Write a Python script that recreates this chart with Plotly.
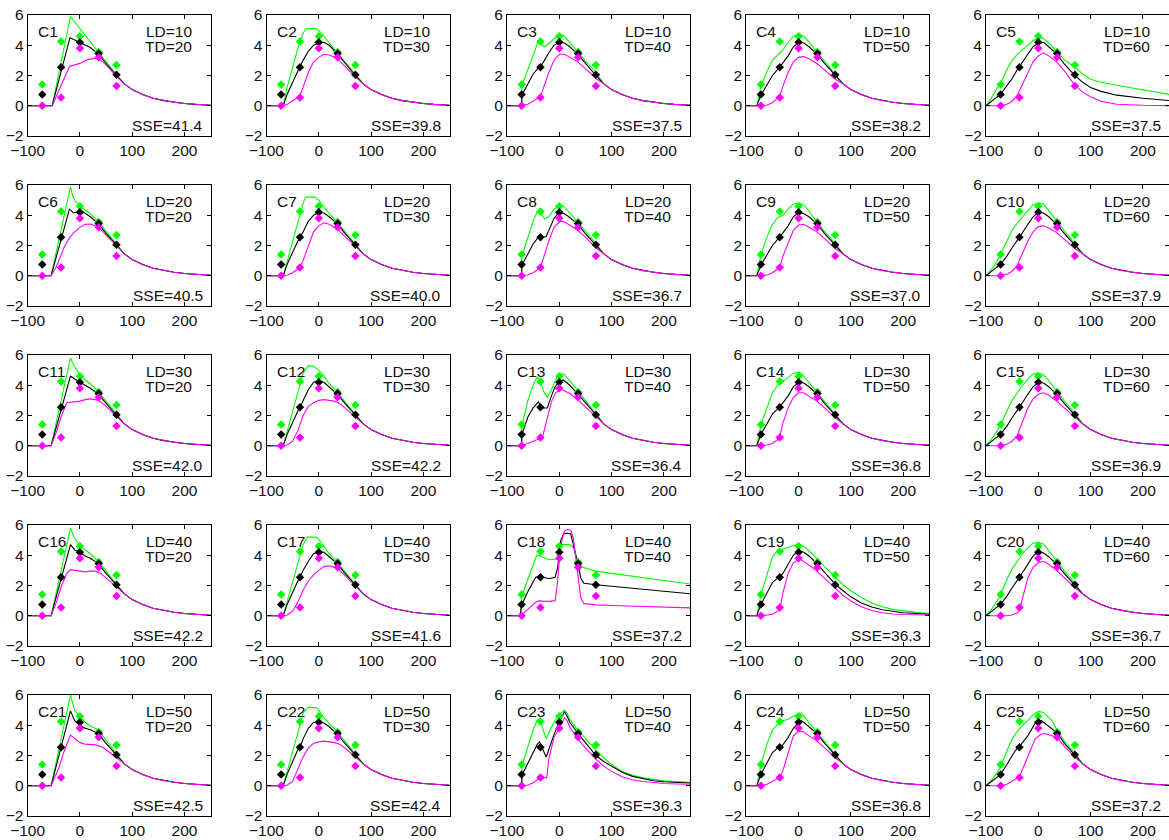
import plotly.graph_objects as go

# ---------------- data ----------------
MARK_X = [-72, -36, 0, 36, 70]
MARK_GREEN = [1.4, 4.25, 4.6, 3.55, 2.7]
MARK_BLACK = [0.75, 2.55, 4.2, 3.45, 2.05]
MARK_MAGENTA = [0.0, 0.55, 3.8, 3.2, 1.3]

LD = [10, 10, 10, 10, 10, 20, 20, 20, 20, 20, 30, 30, 30, 30, 30,
      40, 40, 40, 40, 40, 50, 50, 50, 50, 50]
TD = [20, 30, 40, 50, 60, 20, 30, 40, 50, 60, 20, 30, 40, 50, 60,
      20, 30, 40, 50, 60, 20, 30, 40, 50, 60]
SSE = [41.4, 39.8, 37.5, 38.2, 37.5, 40.5, 40.0, 36.7, 37.0, 37.9,
       42.0, 42.2, 36.4, 36.8, 36.9, 42.2, 41.6, 37.2, 36.3, 36.7,
       42.5, 42.4, 36.3, 36.8, 37.2]

TAIL = [(85, 1.45), (100, 1.07), (120, 0.75), (140, 0.5), (160, 0.34),
        (180, 0.23), (200, 0.15), (220, 0.09), (250, 0.03)]

# Row 1 (LD=10)
G1 = [(-100, 0), (-53, 0), (-18, 5.9), (35, 3.55), (50, 2.9), (70, 2.1)] + TAIL
K1 = [(-100, 0), (-53, 0), (-19, 4.5), (0, 4.2), (20, 3.85), (35, 3.42), (50, 2.8), (70, 2.0)] + TAIL
M1 = [(-100, 0), (-53, 0), (-20, 2.6), (0, 2.8), (15, 3.05), (30, 3.15), (40, 3.0), (50, 2.7), (70, 1.95)] + TAIL

G2 = [(-100, 0), (-68, 0), (-60, 1.3), (-50, 2.6), (-40, 3.8), (-30, 4.8), (-24, 5.1), (-5, 5.1), (5, 4.8), (20, 4.15), (35, 3.55), (50, 2.9), (70, 2.1)] + TAIL
K2 = [(-100, 0), (-68, 0), (-60, 0.8), (-50, 1.6), (-40, 2.35), (-36, 2.6), (-30, 3.0), (-20, 3.6), (-10, 4.0), (0, 4.15), (10, 4.2), (20, 4.0), (35, 3.45), (50, 2.8), (70, 2.0)] + TAIL
M2 = [(-100, 0), (-68, 0), (-60, 0.1), (-50, 0.3), (-40, 0.55), (-36, 0.65), (-30, 1.2), (-20, 2.2), (-10, 2.9), (0, 3.2), (10, 3.4), (20, 3.35), (30, 3.2), (40, 2.95), (50, 2.6), (70, 1.9)] + TAIL

G3 = [(-100, 0), (-72, 0), (-71.5, 1.3), (-60, 2.4), (-50, 3.3), (-42, 4.1), (-38, 4.3), (-33, 4.0), (-28, 3.9), (-20, 4.1), (-10, 4.45), (0, 4.65), (8, 4.65), (20, 4.2), (35, 3.6), (50, 2.95), (70, 2.2)] + TAIL
K3 = [(-100, 0), (-72, 0), (-71.5, 0.7), (-60, 1.5), (-50, 2.1), (-40, 2.5), (-36, 2.6), (-30, 2.9), (-20, 3.5), (-10, 4.0), (0, 4.2), (10, 4.15), (20, 3.9), (35, 3.42), (50, 2.78), (70, 2.0)] + TAIL
M3 = [(-100, 0), (-72, 0), (-60, 0.1), (-50, 0.3), (-40, 0.5), (-36, 0.6), (-30, 1.2), (-20, 2.2), (-10, 3.0), (0, 3.4), (10, 3.4), (20, 3.2), (35, 2.9), (50, 2.45), (70, 1.8)] + TAIL

G4 = [(-100, 0), (-80, 0), (-72, 1.3), (-60, 2.3), (-50, 3.0), (-40, 3.35), (-36, 3.45), (-30, 3.7), (-20, 4.2), (-10, 4.6), (0, 4.7), (10, 4.6), (20, 4.2), (35, 3.55), (50, 2.9), (70, 2.1)] + TAIL
K4 = [(-100, 0), (-80, 0), (-72, 0.7), (-60, 1.4), (-50, 2.0), (-40, 2.4), (-36, 2.55), (-20, 3.3), (-10, 3.9), (0, 4.2), (10, 4.15), (20, 3.9), (35, 3.42), (50, 2.78), (70, 2.0)] + TAIL
M4 = [(-100, 0), (-80, 0), (-72, 0.0), (-60, 0.05), (-50, 0.2), (-40, 0.5), (-36, 0.6), (-30, 1.3), (-20, 2.2), (-10, 2.9), (0, 3.2), (10, 3.25), (20, 3.1), (35, 2.8), (50, 2.35), (70, 1.75)] + TAIL

G5 = [(-100, 0), (-90, 0.5), (-80, 1.1), (-72, 1.5), (-60, 2.4), (-50, 3.0), (-40, 3.4), (-30, 3.7), (-20, 4.0), (-10, 4.3), (0, 4.5), (10, 4.45), (20, 4.15), (35, 3.6), (50, 3.05), (70, 2.55), (85, 2.1), (100, 1.75), (120, 1.55), (150, 1.36), (175, 1.2), (200, 1.08), (225, 0.9), (250, 0.75)]
K5 = [(-100, 0), (-90, 0.3), (-80, 0.55), (-72, 0.75), (-60, 1.3), (-50, 1.8), (-40, 2.4), (-36, 2.6), (-20, 3.4), (-10, 3.9), (0, 4.15), (10, 4.2), (20, 3.9), (35, 3.42), (50, 2.75), (70, 2.0), (85, 1.55), (100, 1.2), (120, 0.95), (150, 0.7), (200, 0.5), (250, 0.35)]
M5 = [(-100, 0), (-80, 0), (-72, 0.0), (-60, 0.1), (-50, 0.3), (-40, 0.7), (-30, 1.4), (-20, 2.2), (-10, 2.9), (0, 3.3), (10, 3.5), (20, 3.3), (35, 2.9), (50, 2.3), (70, 1.35), (85, 0.9), (100, 0.6), (120, 0.3), (150, 0.1), (200, 0.03), (250, 0.0)]

# Row 2 (LD=20)
G6 = [(-100, 0), (-55, 0), (-18, 5.9), (-14, 5.3), (-8, 4.9), (0, 4.6), (10, 4.35), (20, 4.1), (35, 3.6), (50, 2.95), (70, 2.1)] + TAIL
K6 = [(-100, 0), (-55, 0), (-20, 4.4), (-12, 4.15), (-3, 4.25), (5, 4.25), (20, 3.9), (35, 3.45), (50, 2.8), (70, 2.0)] + TAIL
M6 = [(-100, 0), (-55, 0), (-45, 0.6), (-36, 1.4), (-30, 1.9), (-20, 2.5), (-10, 2.9), (0, 3.2), (10, 3.4), (20, 3.42), (30, 3.3), (40, 3.05), (50, 2.7), (70, 1.95)] + TAIL

G7 = [(-100, 0), (-68, 0), (-60, 1.0), (-50, 2.3), (-40, 3.6), (-30, 4.8), (-25, 5.2), (-8, 5.2), (0, 5.0), (10, 4.55), (20, 4.1), (35, 3.55), (50, 2.9), (70, 2.1)] + TAIL
K7 = [(-100, 0), (-68, 0), (-60, 0.8), (-50, 1.6), (-40, 2.3), (-36, 2.55), (-30, 2.9), (-20, 3.6), (-10, 4.0), (0, 4.2), (10, 4.15), (20, 3.9), (35, 3.45), (50, 2.8), (70, 2.0)] + TAIL
M7 = [(-100, 0), (-68, 0), (-60, 0.05), (-50, 0.2), (-40, 0.45), (-36, 0.55), (-30, 1.0), (-20, 2.0), (-10, 2.9), (0, 3.3), (10, 3.5), (20, 3.4), (35, 3.1), (50, 2.6), (70, 1.95)] + TAIL

G8 = [(-100, 0), (-72, 0), (-71.5, 1.3), (-60, 2.6), (-50, 3.6), (-42, 4.25), (-38, 4.35), (-33, 4.0), (-28, 3.75), (-20, 3.9), (-10, 4.4), (0, 4.65), (8, 4.6), (20, 4.15), (35, 3.55), (50, 2.95), (70, 2.15)] + TAIL
K8 = [(-100, 0), (-72, 0), (-71.5, 0.7), (-60, 1.5), (-50, 2.1), (-40, 2.55), (-36, 2.6), (-30, 2.55), (-25, 2.6), (-20, 3.0), (-10, 3.8), (0, 4.2), (10, 4.1), (20, 3.85), (35, 3.42), (50, 2.78), (70, 2.0)] + TAIL
M8 = [(-100, 0), (-72, 0), (-60, 0.05), (-50, 0.2), (-40, 0.45), (-36, 0.55), (-30, 1.2), (-20, 2.3), (-10, 3.2), (0, 3.55), (5, 3.6), (10, 3.55), (20, 3.35), (35, 3.0), (50, 2.55), (70, 1.85)] + TAIL

G9 = [(-100, 0), (-80, 0), (-72, 1.4), (-60, 2.6), (-50, 3.4), (-40, 3.85), (-36, 3.9), (-30, 4.0), (-20, 4.4), (-10, 4.75), (0, 4.8), (10, 4.7), (20, 4.25), (35, 3.55), (50, 2.9), (70, 2.15)] + TAIL
K9 = [(-100, 0), (-80, 0), (-72, 0.7), (-60, 1.4), (-50, 2.0), (-40, 2.4), (-36, 2.55), (-20, 3.3), (-10, 3.9), (0, 4.2), (10, 4.1), (20, 3.9), (35, 3.42), (50, 2.78), (70, 2.0)] + TAIL
M9 = [(-100, 0), (-80, 0), (-72, 0), (-60, 0.05), (-50, 0.2), (-40, 0.45), (-36, 0.55), (-30, 1.3), (-20, 2.2), (-10, 3.0), (0, 3.35), (10, 3.4), (20, 3.2), (35, 2.9), (50, 2.45), (70, 1.8)] + TAIL

G10 = [(-100, 0), (-90, 0.4), (-80, 0.9), (-72, 1.4), (-60, 2.3), (-50, 3.0), (-40, 3.5), (-30, 3.9), (-20, 4.3), (-10, 4.7), (0, 4.8), (10, 4.75), (20, 4.3), (35, 3.6), (50, 2.95), (70, 2.15)] + TAIL
K10 = [(-100, 0), (-90, 0.3), (-80, 0.55), (-72, 0.75), (-60, 1.3), (-50, 1.85), (-40, 2.4), (-36, 2.55), (-20, 3.4), (-10, 3.9), (0, 4.2), (10, 4.15), (20, 3.9), (35, 3.42), (50, 2.78), (70, 2.0)] + TAIL
M10 = [(-100, 0), (-80, 0), (-72, 0), (-60, 0.1), (-50, 0.3), (-40, 0.7), (-30, 1.5), (-20, 2.3), (-10, 2.9), (0, 3.25), (10, 3.3), (20, 3.15), (35, 2.85), (50, 2.4), (70, 1.8)] + TAIL

# Row 3 (LD=30)
G11 = [(-100, 0), (-55, 0), (-18, 5.8), (-10, 5.2), (0, 4.7), (10, 4.35), (20, 4.1), (35, 3.6), (50, 2.95), (70, 2.1)] + TAIL
K11 = [(-100, 0), (-55, 0), (-18, 4.6), (-10, 4.4), (0, 4.2), (10, 4.0), (20, 3.8), (35, 3.42), (50, 2.8), (70, 2.0)] + TAIL
M11 = [(-100, 0), (-55, 0), (-45, 0.9), (-35, 2.0), (-25, 2.85), (-10, 2.9), (0, 2.95), (10, 3.05), (20, 3.1), (30, 3.05), (40, 2.9), (50, 2.6), (70, 1.95)] + TAIL

G12 = [(-100, 0), (-68, 0), (-60, 1.0), (-50, 2.3), (-40, 3.6), (-30, 4.8), (-20, 5.3), (-10, 5.25), (0, 5.0), (10, 4.6), (20, 4.1), (35, 3.55), (50, 2.9), (70, 2.1)] + TAIL
K12 = [(-100, 0), (-68, 0), (-60, 0.8), (-50, 1.6), (-40, 2.3), (-36, 2.55), (-30, 3.0), (-20, 3.7), (-10, 4.2), (0, 4.3), (10, 4.2), (20, 3.9), (35, 3.42), (50, 2.8), (70, 2.0)] + TAIL
M12 = [(-100, 0), (-68, 0), (-60, 0.05), (-50, 0.3), (-40, 1.0), (-30, 2.0), (-20, 2.6), (-10, 2.85), (0, 3.0), (10, 3.05), (20, 3.0), (30, 2.95), (40, 2.8), (50, 2.5), (70, 1.9)] + TAIL

G13 = [(-100, 0), (-72, 0), (-71.5, 1.3), (-60, 3.0), (-50, 4.0), (-42, 4.56), (-37, 4.3), (-30, 3.6), (-23, 3.2), (-15, 3.7), (-8, 4.3), (0, 4.7), (8, 4.75), (20, 4.3), (35, 3.65), (50, 3.0), (70, 2.15)] + TAIL
K13 = [(-100, 0), (-72, 0), (-71.5, 0.75), (-60, 1.9), (-50, 2.5), (-40, 2.9), (-33, 2.5), (-23, 2.5), (-15, 3.3), (-8, 3.9), (0, 4.25), (8, 4.35), (20, 4.0), (35, 3.45), (50, 2.85), (70, 2.05)] + TAIL
M13 = [(-100, 0), (-72, 0), (-60, 0.15), (-45, 0.35), (-36, 0.5), (-32, 0.6), (-23, 1.9), (-15, 2.9), (-7, 3.5), (0, 3.65), (6, 3.7), (20, 3.45), (35, 3.05), (50, 2.55), (70, 1.9)] + TAIL

G14 = [(-100, 0), (-80, 0), (-72, 1.4), (-60, 2.6), (-50, 3.5), (-40, 4.0), (-36, 4.1), (-30, 4.2), (-20, 4.5), (-10, 4.8), (0, 4.85), (5, 4.8), (10, 4.6), (20, 4.2), (35, 3.55), (50, 2.9), (70, 2.1)] + TAIL
K14 = [(-100, 0), (-80, 0), (-72, 0.75), (-60, 1.5), (-50, 2.1), (-40, 2.45), (-36, 2.55), (-20, 3.3), (-10, 3.9), (0, 4.2), (10, 4.15), (20, 3.9), (35, 3.42), (50, 2.78), (70, 2.0)] + TAIL
M14 = [(-100, 0), (-80, 0), (-72, 0), (-60, 0.05), (-50, 0.15), (-40, 0.4), (-36, 0.6), (-30, 1.5), (-20, 2.5), (-10, 3.2), (0, 3.5), (10, 3.5), (20, 3.3), (35, 2.95), (50, 2.5), (70, 1.85)] + TAIL

G15 = [(-100, 0), (-90, 0.4), (-80, 0.9), (-72, 1.4), (-60, 2.3), (-50, 3.0), (-40, 3.5), (-30, 4.0), (-20, 4.4), (-10, 4.75), (0, 4.8), (10, 4.7), (20, 4.3), (35, 3.6), (50, 2.95), (70, 2.15)] + TAIL
K15 = [(-100, 0), (-90, 0.3), (-80, 0.55), (-72, 0.75), (-60, 1.3), (-50, 1.85), (-40, 2.4), (-36, 2.55), (-20, 3.4), (-10, 3.9), (0, 4.2), (10, 4.15), (20, 3.9), (35, 3.42), (50, 2.78), (70, 2.0)] + TAIL
M15 = [(-100, 0), (-80, 0), (-72, 0), (-60, 0.1), (-50, 0.3), (-40, 0.7), (-30, 1.6), (-20, 2.5), (-10, 3.1), (0, 3.4), (10, 3.5), (20, 3.35), (35, 2.95), (50, 2.5), (70, 1.85)] + TAIL

# Row 4 (LD=40)
G16 = [(-100, 0), (-55, 0), (-18, 5.8), (-10, 5.1), (0, 4.6), (10, 4.35), (20, 4.1), (35, 3.6), (50, 2.95), (70, 2.1)] + TAIL
K16 = [(-100, 0), (-55, 0), (-18, 4.7), (-10, 4.35), (0, 4.2), (10, 3.95), (20, 3.8), (35, 3.45), (50, 2.8), (70, 2.0)] + TAIL
M16 = [(-100, 0), (-55, 0), (-45, 0.9), (-35, 2.0), (-25, 2.8), (-18, 3.05), (-10, 3.0), (0, 2.95), (10, 2.9), (20, 2.95), (30, 2.95), (40, 2.8), (50, 2.5), (70, 1.9)] + TAIL

G17 = [(-100, 0), (-68, 0), (-60, 1.0), (-50, 2.2), (-40, 3.5), (-30, 4.7), (-22, 5.2), (-5, 5.2), (0, 5.05), (10, 4.6), (20, 4.1), (35, 3.55), (50, 2.9), (70, 2.1)] + TAIL
K17 = [(-100, 0), (-68, 0), (-60, 0.8), (-50, 1.6), (-40, 2.3), (-36, 2.55), (-30, 3.0), (-20, 3.6), (-10, 4.1), (0, 4.25), (10, 4.2), (20, 3.9), (35, 3.45), (50, 2.8), (70, 2.0)] + TAIL
M17 = [(-100, 0), (-68, 0), (-60, 0.05), (-50, 0.3), (-40, 0.9), (-30, 1.7), (-20, 2.3), (-10, 2.7), (0, 3.0), (10, 3.25), (20, 3.3), (30, 3.2), (40, 3.0), (50, 2.65), (70, 1.95)] + TAIL

G18 = [(-100, 0), (-75, 0), (-72, 1.3), (-60, 2.4), (-50, 3.4), (-43, 4.0), (-36, 3.95), (-30, 3.85), (-20, 3.7), (-5, 3.75), (0, 4.6), (5, 4.7), (20, 4.7), (27, 4.5), (32, 3.9), (36, 3.5), (45, 3.2), (70, 2.95), (100, 2.8), (150, 2.55), (200, 2.35), (250, 2.1)]
K18 = [(-100, 0), (-75, 0), (-72, 0.7), (-60, 1.6), (-45, 2.55), (-38, 2.6), (-30, 2.55), (-20, 2.45), (-8, 2.55), (-3, 3.2), (0, 4.2), (3, 5.0), (8, 5.4), (15, 5.45), (22, 5.4), (27, 4.7), (32, 3.8), (36, 3.4), (41, 2.5), (47, 2.15), (70, 2.05), (100, 1.95), (150, 1.75), (200, 1.6), (250, 1.45)]
M18 = [(-100, 0), (-75, 0), (-72, 0.05), (-60, 0.4), (-45, 0.9), (-38, 1.0), (-30, 0.95), (-20, 0.95), (-8, 1.0), (-3, 2.3), (0, 3.7), (5, 5.0), (10, 5.6), (15, 5.7), (22, 5.65), (27, 5.1), (32, 3.6), (36, 2.4), (41, 1.2), (47, 0.8), (70, 0.72), (100, 0.68), (150, 0.62), (200, 0.56), (250, 0.52)]

G19 = [(-100, 0), (-80, 0), (-72, 1.4), (-60, 2.8), (-50, 3.9), (-40, 4.3), (-36, 4.35), (-30, 4.4), (-20, 4.5), (-10, 4.65), (0, 4.7), (10, 4.6), (20, 4.3), (35, 3.8), (50, 3.25), (70, 2.55), (85, 2.05), (100, 1.65), (120, 1.2), (140, 0.85), (160, 0.6), (180, 0.42), (200, 0.32), (225, 0.22), (250, 0.15)]
K19 = [(-100, 0), (-80, 0), (-72, 0.75), (-60, 1.6), (-50, 2.2), (-40, 2.5), (-36, 2.55), (-30, 2.8), (-20, 3.4), (-10, 4.0), (0, 4.3), (10, 4.2), (20, 3.95), (35, 3.45), (50, 2.85), (70, 2.1), (85, 1.65), (100, 1.25), (120, 0.85), (140, 0.58), (160, 0.4), (180, 0.28), (200, 0.2), (250, 0.1)]
M19 = [(-100, 0), (-80, 0), (-72, 0), (-60, 0.05), (-50, 0.1), (-40, 0.3), (-36, 0.4), (-30, 1.5), (-20, 2.8), (-10, 3.5), (0, 3.7), (5, 3.7), (10, 3.6), (20, 3.35), (35, 2.95), (50, 2.45), (70, 1.8), (85, 1.35), (100, 0.98), (120, 0.6), (140, 0.35), (160, 0.2), (180, 0.12), (200, 0.08), (250, 0.05)]

G20 = [(-100, 0), (-90, 0.4), (-80, 0.9), (-72, 1.4), (-60, 2.4), (-50, 3.1), (-40, 3.6), (-30, 4.1), (-20, 4.5), (-10, 4.8), (0, 4.85), (10, 4.75), (20, 4.3), (35, 3.6), (50, 2.95), (70, 2.15)] + TAIL
K20 = [(-100, 0), (-90, 0.3), (-80, 0.55), (-72, 0.75), (-60, 1.3), (-50, 1.85), (-40, 2.4), (-36, 2.55), (-20, 3.4), (-10, 3.95), (0, 4.25), (10, 4.15), (20, 3.9), (35, 3.42), (50, 2.78), (70, 2.0)] + TAIL
M20 = [(-100, 0), (-60, 0), (-50, 0.05), (-40, 0.2), (-36, 0.35), (-30, 1.2), (-20, 2.5), (-10, 3.2), (0, 3.5), (10, 3.6), (20, 3.4), (35, 3.0), (50, 2.5), (70, 1.85)] + TAIL

# Row 5 (LD=50)
G21 = [(-100, 0), (-55, 0), (-18, 6.0), (-10, 5.0), (0, 4.6), (10, 4.2), (20, 3.95), (30, 3.8), (35, 3.7), (50, 3.0), (70, 2.15)] + TAIL
K21 = [(-100, 0), (-55, 0), (-18, 4.95), (-10, 4.3), (0, 4.0), (10, 3.8), (20, 3.7), (30, 3.55), (35, 3.45), (50, 2.8), (70, 2.0)] + TAIL
M21 = [(-100, 0), (-55, 0), (-40, 1.2), (-30, 2.3), (-18, 3.35), (-10, 3.1), (0, 2.85), (10, 2.75), (20, 2.75), (30, 2.7), (40, 2.6), (50, 2.4), (70, 1.85)] + TAIL

G22 = [(-100, 0), (-68, 0), (-60, 1.0), (-50, 2.2), (-40, 3.5), (-30, 4.8), (-20, 5.2), (-5, 5.15), (0, 5.0), (10, 4.5), (20, 4.1), (35, 3.6), (50, 2.95), (70, 2.1)] + TAIL
K22 = [(-100, 0), (-68, 0), (-60, 0.8), (-50, 1.6), (-40, 2.4), (-36, 2.55), (-30, 3.1), (-20, 3.8), (-10, 4.2), (0, 4.2), (10, 4.15), (20, 3.9), (35, 3.42), (50, 2.8), (70, 2.0)] + TAIL
M22 = [(-100, 0), (-68, 0), (-60, 0.05), (-50, 0.3), (-40, 1.1), (-30, 1.9), (-20, 2.5), (-10, 2.8), (0, 2.9), (10, 2.95), (20, 2.9), (30, 2.85), (40, 2.75), (50, 2.5), (70, 1.9)] + TAIL

G23 = [(-100, 0), (-72, 0), (-71.5, 1.3), (-60, 2.6), (-50, 3.7), (-42, 4.35), (-37, 4.45), (-30, 3.6), (-25, 3.1), (-20, 3.5), (-10, 4.2), (0, 4.7), (10, 5.0), (15, 4.8), (20, 4.4), (35, 3.7), (50, 3.1), (70, 2.35), (85, 1.85), (100, 1.4), (120, 0.95), (140, 0.7), (160, 0.52), (180, 0.4), (200, 0.32), (225, 0.27), (250, 0.23)]
K23 = [(-100, 0), (-72, 0), (-71.5, 0.7), (-60, 1.5), (-50, 2.2), (-42, 2.75), (-38, 2.9), (-30, 2.3), (-25, 1.9), (-20, 2.4), (-10, 3.4), (0, 4.2), (10, 4.9), (15, 4.6), (20, 4.2), (35, 3.5), (50, 2.85), (70, 2.0), (85, 1.6), (100, 1.3), (120, 0.9), (140, 0.62), (160, 0.45), (180, 0.33), (200, 0.26), (225, 0.21), (250, 0.18)]
M23 = [(-100, 0), (-72, 0), (-60, 0.05), (-50, 0.2), (-40, 0.45), (-36, 0.5), (-30, 0.55), (-24, 0.5), (-20, 1.8), (-10, 3.2), (0, 3.8), (10, 4.5), (15, 4.3), (20, 3.9), (35, 3.1), (50, 2.5), (70, 1.75), (85, 1.3), (100, 0.95), (120, 0.6), (140, 0.4), (160, 0.28), (180, 0.2), (200, 0.15), (225, 0.12), (250, 0.1)]

G24 = [(-100, 0), (-80, 0), (-72, 1.4), (-60, 2.8), (-50, 3.7), (-40, 4.1), (-36, 4.2), (-30, 4.3), (-20, 4.4), (-10, 4.6), (0, 4.75), (5, 4.8), (10, 4.6), (20, 4.2), (35, 3.55), (50, 2.9), (70, 2.1)] + TAIL
K24 = [(-100, 0), (-80, 0), (-72, 0.75), (-60, 1.5), (-50, 2.2), (-40, 2.5), (-36, 2.55), (-30, 2.7), (-20, 3.2), (-10, 3.8), (0, 4.2), (5, 4.3), (10, 4.2), (20, 3.9), (35, 3.45), (50, 2.8), (70, 2.0)] + TAIL
M24 = [(-100, 0), (-80, 0), (-72, 0), (-60, 0.1), (-50, 0.3), (-40, 0.5), (-36, 0.55), (-30, 1.0), (-20, 2.2), (-10, 3.3), (0, 3.6), (10, 3.55), (20, 3.3), (35, 2.95), (50, 2.5), (70, 1.85)] + TAIL

G25 = [(-100, 0), (-90, 0.35), (-80, 0.8), (-72, 1.25), (-60, 2.3), (-50, 3.1), (-40, 3.6), (-30, 4.0), (-20, 4.3), (-10, 4.7), (0, 4.92), (10, 4.85), (20, 4.5), (26, 4.3), (36, 3.65), (50, 2.95), (70, 2.15)] + TAIL
K25 = [(-100, 0), (-90, 0.25), (-80, 0.5), (-72, 0.75), (-60, 1.4), (-50, 2.0), (-40, 2.5), (-36, 2.6), (-20, 3.3), (-10, 3.9), (-5, 4.2), (6, 4.3), (20, 3.9), (36, 3.5), (50, 2.8), (70, 2.0)] + TAIL
M25 = [(-100, 0), (-80, 0), (-72, 0.0), (-60, 0.1), (-50, 0.3), (-40, 0.5), (-36, 0.6), (-30, 1.1), (-20, 1.9), (-6, 3.1), (5, 3.4), (13, 3.45), (26, 3.3), (36, 3.2), (50, 2.6), (70, 1.9)] + TAIL

GREEN = [G1, G2, G3, G4, G5, G6, G7, G8, G9, G10, G11, G12, G13, G14, G15,
         G16, G17, G18, G19, G20, G21, G22, G23, G24, G25]
BLACK = [K1, K2, K3, K4, K5, K6, K7, K8, K9, K10, K11, K12, K13, K14, K15,
         K16, K17, K18, K19, K20, K21, K22, K23, K24, K25]
MAGENTA = [M1, M2, M3, M4, M5, M6, M7, M8, M9, M10, M11, M12, M13, M14, M15,
           M16, M17, M18, M19, M20, M21, M22, M23, M24, M25]

# ---------------- figure ----------------
W, H = 1169, 840
COL_LEFT = [27.6, 266.5, 507.0, 746.3, 986.0]
PANEL_W = 183.0
ROW_TOP = [15.0, 185.0, 355.0, 525.0, 695.0]
PANEL_H = 121.0

C_GREEN = "#00ff00"
C_BLACK = "#000000"
C_MAGENTA = "#ff00ff"
FONT = dict(family="Liberation Sans, Arial, sans-serif", size=15.5, color="#111111")

fig = go.Figure()
layout = {}
annotations = []

for i in range(25):
    r, c = divmod(i, 5)
    n = i + 1
    xa = "x" if n == 1 else f"x{n}"
    ya = "y" if n == 1 else f"y{n}"
    for curve, col in ((GREEN[i], C_GREEN), (BLACK[i], C_BLACK), (MAGENTA[i], C_MAGENTA)):
        fig.add_trace(go.Scatter(
            x=[p[0] for p in curve], y=[p[1] for p in curve], mode="lines",
            line=dict(color=col, width=1.1), xaxis=xa, yaxis=ya,
            showlegend=False, hoverinfo="skip"))
    for my, col in ((MARK_GREEN, C_GREEN), (MARK_BLACK, C_BLACK), (MARK_MAGENTA, C_MAGENTA)):
        fig.add_trace(go.Scatter(
            x=MARK_X, y=my, mode="markers",
            marker=dict(symbol="diamond", size=6.5, color=col, line=dict(width=0)),
            xaxis=xa, yaxis=ya, showlegend=False, hoverinfo="skip"))

    x0 = COL_LEFT[c] / W
    x1 = min(1.0, (COL_LEFT[c] + PANEL_W) / W)
    y1 = 1 - ROW_TOP[r] / H
    y0 = 1 - (ROW_TOP[r] + PANEL_H) / H
    common = dict(showline=True, linecolor="black", linewidth=1, mirror="ticks",
                  ticks="inside", ticklen=4, tickwidth=1, tickcolor="black",
                  showgrid=False, zeroline=False, tickfont=FONT, fixedrange=True,
                  automargin=False)
    layout["xaxis" if n == 1 else f"xaxis{n}"] = dict(
        domain=[x0, x1], range=[-100, 250], tickvals=[-100, 0, 100, 200],
        anchor=ya, **common)
    layout["yaxis" if n == 1 else f"yaxis{n}"] = dict(
        domain=[y0, y1], range=[-2, 6], tickvals=[-2, 0, 2, 4, 6],
        anchor=xa, **common)

    xd = f"{xa} domain"
    yd = f"{ya} domain"
    annotations.append(dict(text=f"C{n}", x=0.044, y=0.86, xref=xd, yref=yd,
                            xanchor="left", yanchor="middle", showarrow=False, font=FONT))
    annotations.append(dict(text=f"LD={LD[i]}", x=0.907, y=0.865, xref=xd, yref=yd,
                            xanchor="right", yanchor="middle", showarrow=False, font=FONT))
    annotations.append(dict(text=f"TD={TD[i]}", x=0.907, y=0.74, xref=xd, yref=yd,
                            xanchor="right", yanchor="middle", showarrow=False, font=FONT))
    annotations.append(dict(text=f"SSE={SSE[i]:.1f}", x=0.967, y=0.083, xref=xd, yref=yd,
                            xanchor="right", yanchor="middle", showarrow=False, font=FONT))

fig.update_layout(**layout)
fig.update_layout(width=W, height=H, margin=dict(l=0, r=0, t=0, b=0, autoexpand=False),
                  paper_bgcolor="white", plot_bgcolor="white",
                  annotations=annotations, showlegend=False)

fig.write_html("out.html", config={"displayModeBar": False})
